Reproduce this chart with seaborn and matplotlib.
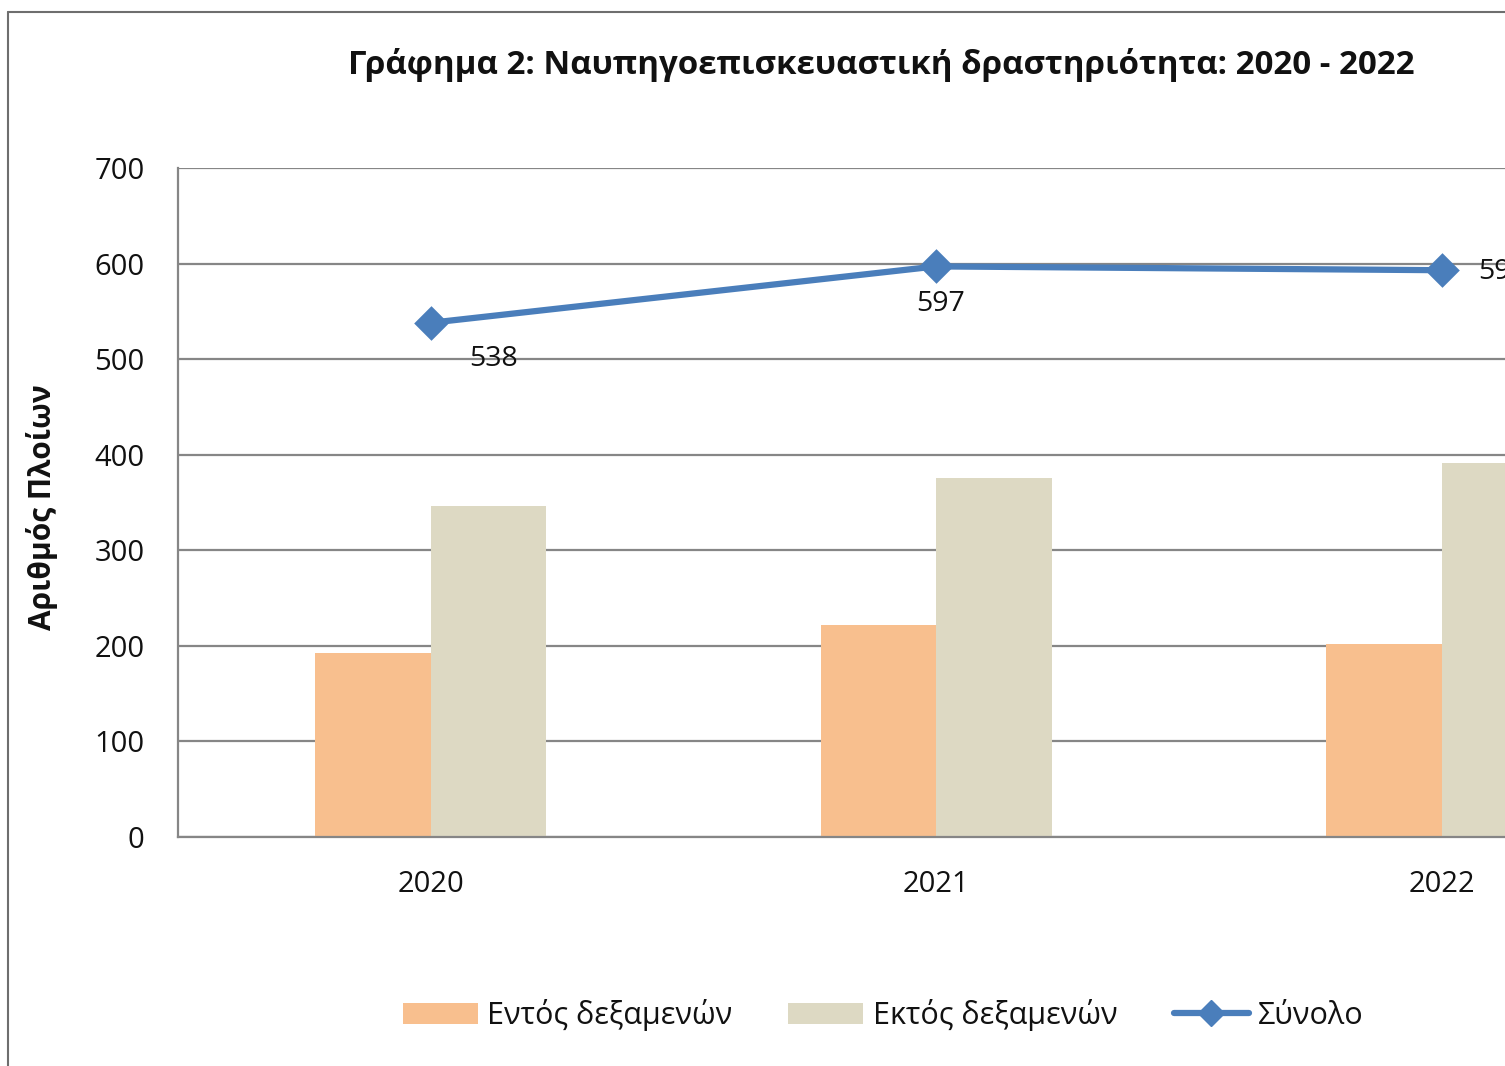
import matplotlib
matplotlib.use("Agg")
import matplotlib.pyplot as plt
from matplotlib.patches import Patch
from matplotlib.lines import Line2D
import seaborn as sns
import pandas as pd

# ---- data ----
years = ["2020", "2021", "2022"]
entos = [192, 222, 202]      # Εντός δεξαμενών
ektos = [346, 375, 391]      # Εκτός δεξαμενών
synolo = [538, 597, 593]     # Σύνολο
series_names = ["Εντός δεξαμενών", "Εκτός δεξαμενών", "Σύνολο"]
yticks = [0, 100, 200, 300, 400, 500, 600, 700]
title = "Γράφημα 2: Ναυπηγοεπισκευαστική δραστηριότητα: 2020 - 2022"
ylabel = "Αριθμός Πλοίων"

# ---- style ----
sns.set_style("white")
plt.rcParams["font.family"] = ["Open Sans", "DejaVu Sans"]
C_ORANGE = "#F8BF8E"
C_TAN = "#DDD9C3"
C_BLUE = "#4A7EBB"
C_GRID = "#868686"
C_TEXT = "#111111"
FS = 21

W, H = 1505, 1066
fig = plt.figure(figsize=(W / 100, H / 100), dpi=100)
fig.patch.set_facecolor("white")

# axes extends past the right edge of the figure (as in the reference crop)
ax_left, ax_right, ax_top, ax_bot = 178, 1694.5, 168, 836.7
ax = fig.add_axes([ax_left / W, (H - ax_bot) / H,
                   (ax_right - ax_left) / W, (ax_bot - ax_top) / H])

df = pd.DataFrame({
    "year": years * 2,
    "value": entos + ektos,
    "series": [series_names[0]] * len(years) + [series_names[1]] * len(years),
})

sns.barplot(data=df, x="year", y="value", hue="series",
            hue_order=series_names[:2], palette=[C_ORANGE, C_TAN],
            width=0.456, gap=0, saturation=1, legend=False, ax=ax,
            linewidth=0, zorder=2)

sns.pointplot(x=years, y=synolo, color=C_BLUE, markers="D", errorbar=None,
              ax=ax, markersize=14.5, linewidth=4.5, zorder=4)

# data labels for the total line
label_offsets = [(45, -26, "center"), (3, -27, "center"), (26, -1, "left")]
for i, v in enumerate(synolo):
    dx, dy, ha = label_offsets[i]
    ax.annotate(f"{v}", xy=(i, v), xytext=(dx, dy), textcoords="offset points",
                ha=ha, va="center", fontsize=FS - 0.5, color=C_TEXT,
                annotation_clip=False)

ax.set_xlim(-0.5, 2.5)
ax.set_ylim(0, 700)
ax.set_yticks(yticks)
ax.set_yticklabels([str(t) for t in yticks])
ax.set_xticks(range(len(years)))
ax.set_xticklabels(years)
ax.set_xticks([-0.5, 0.5, 1.5, 2.5], minor=True)
ax.set_xlabel("")
ax.set_ylabel("")

ax.set_axisbelow(True)
ax.yaxis.grid(True, color=C_GRID, linewidth=1.6)
ax.xaxis.grid(False)

for s in ["top", "right"]:
    ax.spines[s].set_visible(False)
for s in ["left", "bottom"]:
    ax.spines[s].set_color(C_GRID)
    ax.spines[s].set_linewidth(1.6)

ax.tick_params(axis="y", which="major", length=7, width=1.6, color=C_GRID,
               direction="out", pad=17, labelsize=FS, labelcolor=C_TEXT)
ax.tick_params(axis="x", which="major", length=0, pad=24, labelsize=FS,
               labelcolor=C_TEXT)
ax.tick_params(axis="x", which="minor", length=8, width=1.6, color=C_GRID,
               direction="out")

# titles
fig.text(881 / W, 1 - 65 / H, title, ha="center", va="center",
         fontsize=23.8, fontweight="bold", color=C_TEXT)
fig.text(42 / W, 1 - 507 / H, ylabel, ha="center", va="center",
         rotation=90, fontsize=21.5, fontweight="bold", color=C_TEXT)

# legend
handles = [Patch(facecolor=C_ORANGE, edgecolor="none"),
           Patch(facecolor=C_TAN, edgecolor="none"),
           Line2D([], [], color=C_BLUE, lw=4.5, marker="D", markersize=13)]
fig.legend(handles, series_names, loc="center",
           bbox_to_anchor=(883 / W, 1 - 1015 / H), ncol=3, frameon=False,
           fontsize=22, handlelength=2.45, handleheight=0.68,
           handletextpad=0.3, columnspacing=1.85, labelcolor=C_TEXT)

# chart frame (left and top edges visible)
fig.add_artist(Line2D([8 / W, 8 / W], [0, 1 - 12 / H], transform=fig.transFigure,
                      color="#6e6e6e", lw=1.5))
fig.add_artist(Line2D([8 / W, 1], [1 - 12 / H, 1 - 12 / H],
                      transform=fig.transFigure, color="#6e6e6e", lw=1.5))

fig.savefig("out.png", dpi=100)
